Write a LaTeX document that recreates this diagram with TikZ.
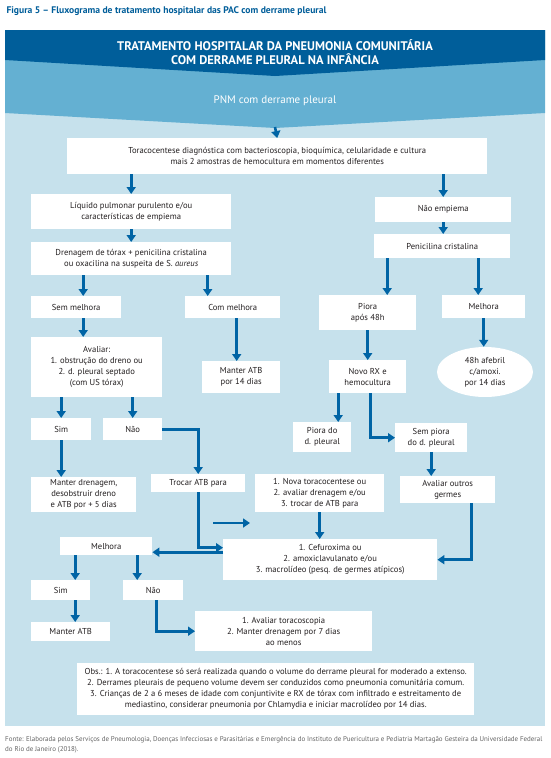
\documentclass[tikz,border=0pt]{standalone}
\usepackage{fontspec}
\setmainfont{PT Sans}
\usepackage{xcolor}
\usepackage{tikz}
\usetikzlibrary{shapes.geometric,arrows.meta,calc}
\definecolor{pacdark}{RGB}{0,94,154}
\definecolor{pacmid}{RGB}{100,176,210}
\definecolor{paclight}{RGB}{198,225,236}
\definecolor{pacarrow}{RGB}{0,100,165}
\definecolor{pactext}{RGB}{35,31,32}
\definecolor{pacgray}{RGB}{100,100,100}

\begin{document}
\begin{tikzpicture}[
        x=1pt, y=-1pt,
        >={Triangle[length=7pt,width=9pt]},
        box/.style={rectangle, fill=white, align=center, inner sep=1pt, anchor=north west,
            text=pactext, font=\fontsize{8.6}{11}\selectfont},
        flow/.style={->, line width=2.6pt, draw=pacarrow}
    ]
        \useasboundingbox (0,0) rectangle (550,758);
        \fill[white] (0,0) rectangle (550,758);
        \fill[paclight] (5,30) rectangle (545,726);
        \fill[pacmid] (5,30) -- (545,30) -- (545,113) -- (275,128) -- (5,113) -- cycle;
        \fill[pacdark] (5,30) -- (545,30) -- (545,60) -- (275,76) -- (5,60) -- cycle;

        \node[anchor=west, text=pacdark, font=\fontsize{9.6}{11}\selectfont\bfseries] (fig) at (3,11)
            {Figura 5 -- Fluxograma de tratamento hospitalar das PAC com derrame pleural};
        \node[align=center, text=white, font=\fontsize{12.5}{13.5}\selectfont\bfseries] (head) at (275,52)
            {TRATAMENTO HOSPITALAR DA PNEUMONIA COMUNITÁRIA\\COM DERRAME PLEURAL NA INFÂNCIA};
        \node[text=white, font=\fontsize{11}{13}\selectfont] (pnm) at (275,101) {PNM com derrame pleural};
        \coordinate (pnmtip) at (275,127);

        % left branch
        \node[box, minimum width=420pt, minimum height=36pt] (tora) at (67,138)
            {Toracocentese diagnóstica com bacterioscopia, bioquímica, celularidade e cultura\\mais 2 amostras de hemocultura em momentos diferentes};
        \node[box, minimum width=200pt, minimum height=35pt] (liquido) at (31,194)
            {Líquido pulmonar purulento e/ou\\características de empiema};
        \node[box, minimum width=200pt, minimum height=33pt] (dren) at (31,242)
            {Drenagem de tórax + penicilina cristalina\\ou oxacilina na suspeita de S. \textit{aureus}};
        \node[box, minimum width=90pt, minimum height=22pt] (semmel) at (31,296) {Sem melhora};
        \node[box, minimum width=95pt, minimum height=22pt] (commel) at (185,296) {Com melhora};
        \node[box, minimum width=131pt, minimum height=60pt] (avaliar) at (31,337)
            {Avaliar:\\1. obstrução do dreno ou\\2. d. pleural septado\\(com US tórax)};
        \node[box, minimum width=78pt, minimum height=32pt] (mantatbq) at (202,361) {Manter ATB\\por 14 dias};
        \node[box, minimum width=60pt, minimum height=22pt] (simum) at (31,418) {Sim};
        \node[box, minimum width=59pt, minimum height=22pt] (naoum) at (103,418) {Não};
        \node[box, minimum width=105pt, minimum height=35pt] (mantdren) at (31,477)
            {Manter drenagem,\\desobstruir dreno\\e ATB por + 5 dias};
        \node[box, minimum width=94pt, minimum height=18pt] (trocar) at (151,474) {Trocar ATB para};

        % right branch
        \node[box, minimum width=136pt, minimum height=25pt] (naoemp) at (375,197) {Não empiema};
        \node[box, minimum width=136pt, minimum height=24pt] (penic) at (374,234) {Penicilina cristalina};
        \node[box, minimum width=97pt, minimum height=35pt] (piora) at (319,295) {Piora\\após 48h};
        \node[box, minimum width=83pt, minimum height=23pt] (melhora) at (442,295) {Melhora};
        \node[ellipse, fill=white, align=center, inner sep=0pt, text=pactext, font=\fontsize{8.6}{11}\selectfont,
            minimum width=96pt, minimum height=50pt] (afebril) at (485,372) {48h afebril\\c/amoxi.\\por 14 dias};
        \node[box, minimum width=77pt, minimum height=33pt] (novorx) at (329,360) {Novo RX e\\hemocultura};
        \node[box, minimum width=58pt, minimum height=30pt] (pioradp) at (293,422) {Piora do\\d. pleural};
        \node[box, minimum width=72pt, minimum height=29pt] (sempiora) at (395,423) {Sem piora\\do d. pleural};
        \node[box, minimum width=95pt, minimum height=27pt] (outros) at (400,476) {Avaliar outros\\germes};
        \node[box, minimum width=129pt, minimum height=38pt] (novatora) at (255,474)
            {1. Nova toracocentese ou\\2. avaliar drenagem e/ou\\3. trocar de ATB para};

        % bottom
        \node[box, minimum width=214pt, minimum height=41pt] (cefur) at (223,539)
            {1. Cefuroxima ou\\2. amoxiclavulanato e/ou\\3. macrolídeo (pesq. de germes atípicos)};
        \node[box, minimum width=92pt, minimum height=18pt] (melhorab) at (60,537) {Melhora};
        \node[box, minimum width=59pt, minimum height=20pt] (simdois) at (31,580) {Sim};
        \node[box, minimum width=60pt, minimum height=20pt] (naodois) at (123,580) {Não};
        \node[box, minimum width=79pt, minimum height=19pt] (mantatb) at (31,622) {Manter ATB};
        \node[box, minimum width=177pt, minimum height=40pt] (toraco) at (195,611)
            {1. Avaliar toracoscopia\\2. Manter drenagem por 7 dias\\ao menos};
        \node[box, minimum width=397pt, minimum height=52pt] (obs) at (77,663)
            {Obs.: 1. A toracocentese só será realizada quando o volume do derrame pleural for moderado a extenso.\\
             2. Derrames pleurais de pequeno volume devem ser conduzidos como pneumonia comunitária comum.\\
             3. Crianças de 2 a 6 meses de idade com conjuntivite e RX de tórax com infiltrado e estreitamento de\\
             mediastino, considerar pneumonia por Chlamydia e iniciar macrolídeo por 14 dias.};
        \node[anchor=north west, align=left, inner sep=0pt, text=pacgray, font=\fontsize{6.95}{10.5}\selectfont] (fonte) at (5,736)
            {Fonte: Elaborada pelos Serviços de Pneumologia, Doenças Infecciosas e Parasitárias e Emergência do Instituto de Puericultura e Pediatria Martagão Gesteira da Universidade Federal\\do Rio de Janeiro (2018).};
        \coordinate (loosea) at (213,523);
        \coordinate (looseb) at (250,523);

        \draw[flow] (pnmtip) -- (tora.north);
        \draw[flow] (liquido.north |- tora.south) -- (liquido.north);
        \draw[flow] (naoemp.north |- tora.south) -- (naoemp.north);
        \draw[flow] (liquido.south) -- (dren.north);
        \draw[flow] (naoemp.south) -- (naoemp.south |- penic.north);
        \draw[flow] ([xshift=7pt]semmel.north |- dren.south) -- ([xshift=7pt]semmel.north);
        \draw[flow] ([xshift=-25pt]commel.north |- dren.south) -- ([xshift=-25pt]commel.north);
        \draw[flow] ([xshift=7pt]semmel.south) -- ([xshift=7pt]semmel.south |- avaliar.north);
        \draw[flow] ([xshift=4pt]commel.south) -- ([xshift=4pt]commel.south |- mantatbq.north);
        \draw[flow] (simum.north |- avaliar.south) -- (simum.north);
        \draw[flow] (naoum.north |- avaliar.south) -- (naoum.north);
        \draw[flow] (simum.south) -- (simum.south |- mantdren.north);
        \draw[flow] (naoum.east) -| (trocar.north);
        \draw[flow] (trocar.south) |- ([yshift=12pt]cefur.west);
        \draw[flow] ([yshift=7.5pt]cefur.west) -- ([yshift=7.5pt]cefur.west -| melhorab.east);
        \draw[flow] (loosea) -- (looseb);
        \draw[flow] (novatora.south) -- (novatora.south |- cefur.north);
        \draw[flow] ([xshift=-55pt]penic.south) -- ([xshift=-55pt]penic.south |- piora.north);
        \draw[flow] ([xshift=36pt]penic.south) -- ([xshift=36pt]penic.south |- melhora.north);
        \draw[flow] (melhora.south) -- (melhora.south |- afebril.north);
        \draw[flow] (piora.south) -- (novorx.north);
        \draw[flow] ([xshift=-29.5pt]novorx.south) -- ([xshift=-29.5pt]novorx.south |- pioradp.north);
        \draw[flow] ([xshift=2.5pt]novorx.south) |- (sempiora.west);
        \draw[flow] (sempiora.south) -- (sempiora.south |- outros.north);
        \draw[flow] ([xshift=23.5pt]outros.south) |- (cefur.east);
        \draw[flow] ([xshift=14.5pt]simdois.north |- melhorab.south) -- ([xshift=14.5pt]simdois.north);
        \draw[flow] ([xshift=-16pt]naodois.north |- melhorab.south) -- ([xshift=-16pt]naodois.north);
        \draw[flow] ([xshift=14.5pt]simdois.south) -- ([xshift=14.5pt]simdois.south |- mantatb.north);
        \draw[flow] ([xshift=3pt]naodois.south) |- (toraco.west);
    \end{tikzpicture}
\end{document}
